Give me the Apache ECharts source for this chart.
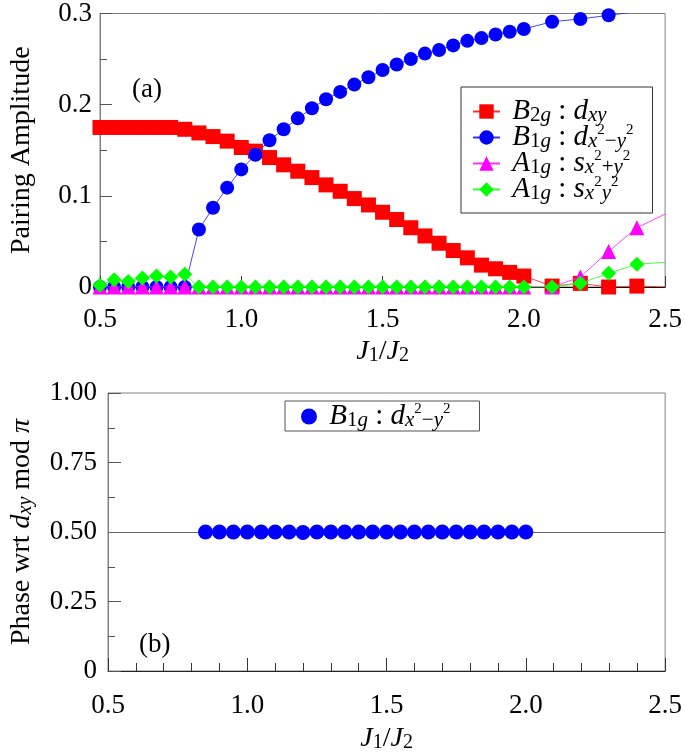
<!DOCTYPE html>
<html>
<head>
<meta charset="utf-8">
<script src="https://cdn.jsdelivr.net/npm/echarts@6/dist/echarts.min.js"></script>
<style>html,body{margin:0;padding:0;background:#fff;}#c{width:685px;height:754px;}</style>
</head>
<body>
<div id="c"></div>
<script>
// ---- data (panel a) ----
const xA = [0.5,0.55,0.6,0.65,0.7,0.75,0.8,0.85,0.9,0.95,1.0,1.05,1.1,1.15,1.2,1.25,1.3,1.35,1.4,1.45,1.5,1.55,1.6,1.65,1.7,1.75,1.8,1.85,1.9,1.95,2.0,2.1,2.2,2.3,2.4,2.5];
const b2g = [0.175,0.175,0.175,0.175,0.175,0.175,0.173,0.169,0.165,0.160,0.153,0.149,0.142,0.134,0.127,0.120,0.112,0.105,0.097,0.090,0.082,0.074,0.065,0.056,0.048,0.040,0.032,0.024,0.020,0.016,0.012,0.001,0.004,0.000,0.001,0.000];
const b1g = [0,0,0,0,0,0,0,0.063,0.087,0.109,0.129,0.145,0.161,0.173,0.185,0.196,0.206,0.214,0.222,0.230,0.238,0.244,0.250,0.256,0.260,0.265,0.270,0.273,0.277,0.280,0.283,0.291,0.294,0.298,0.302];
const a1gS = [0,0,0,0,0,0,0,0,0,0,0,0,0,0,0,0,0,0,0,0,0,0,0,0,0,0,0,0,0,0,0,0,0.011,0.039,0.065,0.080];
const a1gX = [0.002,0.008,0.006,0.010,0.012,0.011,0.014,0,0,0,0,0,0,0,0,0,0,0,0,0,0,0,0,0,0,0,0,0,0,0,0,0,0.004,0.015,0.025,0.027];
// ---- data (panel b) ----
const xB = [0.85,0.9,0.95,1.0,1.05,1.1,1.15,1.2,1.25,1.3,1.35,1.4,1.45,1.5,1.55,1.6,1.65,1.7,1.75,1.8,1.85,1.9,1.95,2.0];
const phase = [0.5,0.5,0.5,0.5,0.5,0.5,0.5,0.498,0.5,0.5,0.5,0.5,0.5,0.5,0.5,0.5,0.5,0.5,0.5,0.5,0.5,0.5,0.5,0.5];
const yTicksA = [0, 0.1, 0.2, 0.3];
const yTicksB = [0, 0.25, 0.5, 0.75, 1.0];
const xTicks = [0.5, 1.0, 1.5, 2.0, 2.5];

const SER = {
  b2g: 'B2g : dxy',
  b1g: 'B1g : dx2-y2',
  a1gS: 'A1g : sx2+y2',
  a1gX: 'A1g : sx2y2',
  ph: 'B1g : dx2-y2 phase'
};
const LEG = {};
LEG[SER.b2g] = '{i|B}{sr|2}{s|g}{m| : }{i|d}{s|xy}';
LEG[SER.b1g] = '{i|B}{sr|1}{s|g}{m| : }{i|d}{s|x}{p|2}{sr|−}{s|y}{p|2}';
LEG[SER.a1gS] = '{i|A}{sr|1}{s|g}{m| : }{i|s}{s|x}{p|2}{sr|+}{s|y}{p|2}';
LEG[SER.a1gX] = '{i|A}{sr|1}{s|g}{m| : }{i|s}{s|x}{p|2}{s|y}{p|2}';
LEG[SER.ph] = '{i|B}{sr|1}{s|g}{m| : }{i|d}{s|x}{p|2}{sr|−}{s|y}{p|2}';

const F = 'Liberation Serif';
function richSet(sz, L, subRatio) {
  L = L || sz;
  const sub = Math.round(sz * (subRatio || 0.7)), sup = Math.round(sz * 0.52);
  return {
    m: {fontFamily: F, fontSize: sz, lineHeight: L, color: '#000'},
    i: {fontFamily: F, fontSize: sz, fontStyle: 'italic', lineHeight: L, color: '#000'},
    s: {fontFamily: F, fontSize: sub, fontStyle: 'italic', lineHeight: Math.round(L*0.5), verticalAlign: 'bottom', color: '#000'},
    sr: {fontFamily: F, fontSize: sub, lineHeight: Math.round(L*0.5), verticalAlign: 'bottom', color: '#000'},
    p: {fontFamily: F, fontSize: sup, lineHeight: Math.round(L*0.95), verticalAlign: 'top', color: '#000'}
  };
}
function pairs(xs, ys, hideLast) {
  return ys.map((y, k) => {
    if (hideLast && k === ys.length - 1) return {value: [xs[k], y], symbol: 'none'};
    return [xs[k], y];
  });
}
const GRAY = '#808080';
const LBL = {fontFamily: F, fontSize: 27, color: '#000'};
const LEGRICH = richSet(29, 24, 0.72);

const option = {
  animation: false,
  backgroundColor: '#fff',
  title: [
    {text: '(a)', left: 132, top: 76, padding: 0, textStyle: {fontFamily: F, fontSize: 27, fontWeight: 'normal', color: '#000'}},
    {text: '(b)', left: 139, top: 631, padding: 0, textStyle: {fontFamily: F, fontSize: 27, fontWeight: 'normal', color: '#000'}}
  ],
  grid: [
    {left: 90, right: 15, top: 6, height: 281, show: true, borderColor: GRAY, borderWidth: 1, backgroundColor: 'transparent'},
    {left: 99, right: 15, top: 393, height: 280, show: true, borderColor: GRAY, borderWidth: 1, backgroundColor: 'transparent'}
  ],
  legend: [
    {
      data: [SER.b2g, SER.b1g, SER.a1gS, SER.a1gX],
      orient: 'vertical', left: 461, top: 87,
      padding: [10, 19, 9, 11], itemGap: -3, itemWidth: 27, itemHeight: 18,
      borderColor: '#333', borderWidth: 1, backgroundColor: '#fff',
      selectedMode: false,
      formatter: n => ' ' + LEG[n],
      textStyle: {fontFamily: F, fontSize: 29, color: '#000', rich: LEGRICH}
    },
    {
      data: [SER.ph],
      orient: 'horizontal', left: 285, top: 401,
      padding: [1, 29, 0, 16], itemWidth: 16, itemHeight: 16,
      borderColor: '#555', borderWidth: 1, backgroundColor: '#fff',
      selectedMode: false,
      formatter: n => ' ' + LEG[n],
      textStyle: {fontFamily: F, fontSize: 29, color: '#000', rich: LEGRICH}
    }
  ],
  xAxis: [
    {
      gridIndex: 0, type: 'value', min: 0.5, max: 2.5, interval: 0.5,
      axisLine: {onZero: true, lineStyle: {color: '#000', width: 1}},
      axisTick: {inside: true, length: 11, lineStyle: {color: '#333'}},
      splitLine: {show: false},
      axisLabel: Object.assign({margin: 19, formatter: v => xTicks.indexOf(+v.toFixed(2)) >= 0 ? v.toFixed(1) : ''}, LBL),
      name: '{i|J}{sr|1}{m|/}{i|J}{sr|2}', nameLocation: 'middle', nameGap: 51,
      nameTextStyle: {rich: richSet(28)}
    },
    {
      gridIndex: 1, type: 'value', min: 0.5, max: 2.5, interval: 0.5,
      axisLine: {onZero: false, lineStyle: {color: '#222', width: 1}},
      axisTick: {inside: true, length: 13, lineStyle: {color: '#333'}},
      minorTick: {show: true, splitNumber: 5, length: 8, lineStyle: {color: '#333'}},
      splitLine: {show: false}, minorSplitLine: {show: false},
      axisLabel: Object.assign({margin: 21, formatter: v => xTicks.indexOf(+v.toFixed(2)) >= 0 ? v.toFixed(1) : ''}, LBL),
      name: '{i|J}{sr|1}{m|/}{i|J}{sr|2}', nameLocation: 'middle', nameGap: 54,
      nameTextStyle: {rich: richSet(28)}
    }
  ],
  yAxis: [
    {
      gridIndex: 0, type: 'value', min: 0, max: 0.3, interval: 0.1,
      axisLine: {show: true, lineStyle: {color: GRAY}},
      axisTick: {inside: true, length: 12, lineStyle: {color: '#555'}},
      minorTick: {show: true, splitNumber: 2, length: 7, lineStyle: {color: '#555'}},
      splitLine: {show: false}, minorSplitLine: {show: false},
      axisLabel: Object.assign({margin: 8, formatter: v => { const r = +v.toFixed(2); if (yTicksA.indexOf(r) < 0) return ''; return r === 0 ? '0' : r.toFixed(1); }}, LBL),
      name: 'Pairing Amplitude', nameLocation: 'middle', nameGap: 64, nameRotate: 90,
      nameTextStyle: {fontFamily: F, fontSize: 28, color: '#000'}
    },
    {
      gridIndex: 1, type: 'value', min: 0, max: 1, interval: 0.25,
      axisLine: {show: true, lineStyle: {color: GRAY}},
      axisTick: {inside: true, length: 13, lineStyle: {color: '#555'}},
      minorTick: {show: true, splitNumber: 2, length: 7, lineStyle: {color: '#555'}},
      splitLine: {show: false}, minorSplitLine: {show: false},
      axisLabel: Object.assign({margin: 11, formatter: v => { const r = +v.toFixed(3); if (yTicksB.indexOf(r) < 0) return ''; return r === 0 ? '0' : r.toFixed(2); }}, LBL),
      name: '{m|Phase wrt }{i|d}{s|xy}{m| mod }{i|π}', nameLocation: 'middle', nameGap: 72, nameRotate: 90,
      nameTextStyle: {rich: richSet(28)}
    }
  ],
  series: [
    {
      name: SER.b2g, type: 'line', xAxisIndex: 0, yAxisIndex: 0, clip: true,
      data: pairs(xA, b2g, true), symbol: 'rect', symbolSize: 15,
      itemStyle: {color: '#ff0000'}, lineStyle: {color: '#ff3030', width: 0.9}, z: 2
    },
    {
      name: SER.b1g, type: 'line', xAxisIndex: 0, yAxisIndex: 0, clip: true,
      data: pairs(xA, b1g, false), symbol: 'circle', symbolSize: 14,
      itemStyle: {color: '#0000ff'}, lineStyle: {color: '#3030ff', width: 0.9}, z: 3
    },
    {
      name: SER.a1gS, type: 'line', xAxisIndex: 0, yAxisIndex: 0, clip: true,
      data: pairs(xA, a1gS, true), symbol: 'triangle', symbolSize: 15,
      itemStyle: {color: '#ff00ff'}, lineStyle: {color: '#ff30ff', width: 0.9}, z: 4
    },
    {
      name: SER.a1gX, type: 'line', xAxisIndex: 0, yAxisIndex: 0, clip: true,
      data: pairs(xA, a1gX, true), symbol: 'diamond', symbolSize: [15, 15],
      itemStyle: {color: '#00ff00'}, lineStyle: {color: '#30ff30', width: 0.9}, z: 5
    },
    {
      name: SER.ph, type: 'scatter', xAxisIndex: 1, yAxisIndex: 1,
      data: pairs(xB, phase, false), symbol: 'circle', symbolSize: 15,
      itemStyle: {color: '#0000ff', opacity: 1}, z: 5,
      markLine: {
        silent: true, symbol: 'none', label: {show: false},
        lineStyle: {color: '#666', width: 1, type: 'solid'},
        data: [{yAxis: 0.5}], z: 1
      }
    }
  ]
};
const chart = echarts.init(document.getElementById('c'), null, {renderer: 'canvas'});
chart.setOption(option);
</script>
</body>
</html>
